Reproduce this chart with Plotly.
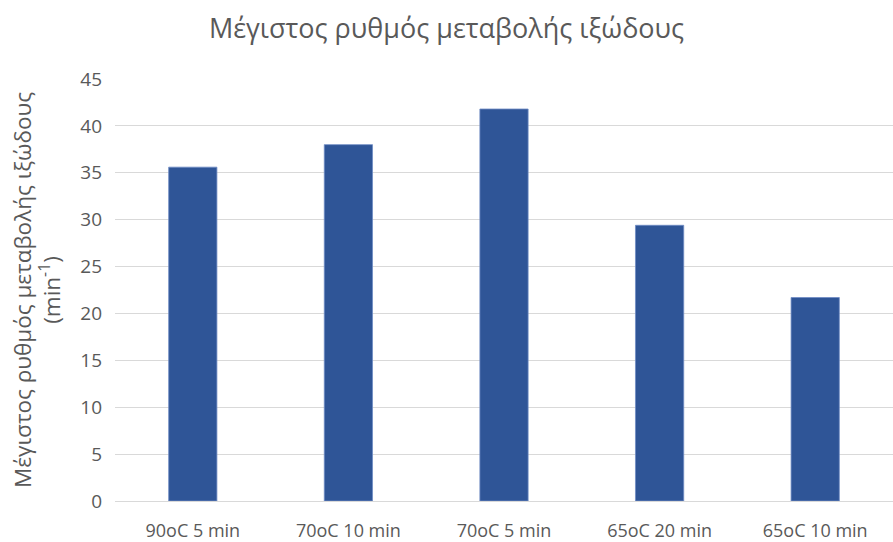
import plotly.graph_objects as go

categories = ["90oC 5 min", "70oC 10 min", "70oC 5 min", "65oC 20 min", "65oC 10 min"]
values = [35.6, 38.0, 41.8, 29.4, 21.7]
y_ticks = [0, 5, 10, 15, 20, 25, 30, 35, 40, 45]

fig = go.Figure(go.Bar(
    x=categories, y=values,
    marker=dict(color="#2f5597", line=dict(color="#6f8cc4", width=0.8)),
))

font_family = "Open Sans, Liberation Sans, sans-serif"
fig.update_layout(
    width=893, height=542,
    margin=dict(l=115, r=0, t=79, b=41),
    paper_bgcolor="white", plot_bgcolor="white",
    bargap=0.69,
    showlegend=False,
    font=dict(family=font_family, color="#595959", size=18),
    title=dict(text="Μέγιστος ρυθμός μεταβολής ιξώδους", x=0.5, xanchor="center",
               y=0.948, yanchor="middle", font=dict(size=27, color="#595959")),
    xaxis=dict(showgrid=False, showline=True, linecolor="#d9d9d9", linewidth=1,
               ticks="", ticklabelstandoff=13,
               tickfont=dict(size=18, color="#595959")),
    yaxis=dict(range=[0, 45], tickvals=y_ticks, showgrid=True, gridcolor="#d9d9d9",
               gridwidth=1, zeroline=False, showline=False, ticks="",
               ticklabelstandoff=12,
               tickfont=dict(size=19, color="#595959"),
               title=dict(text="Μέγιστος ρυθμός μεταβολής ιξώδους<br>(min<sup>-1</sup>)",
                          font=dict(size=22.5, color="#595959"), standoff=13)),
)

fig.write_html("out.html")
